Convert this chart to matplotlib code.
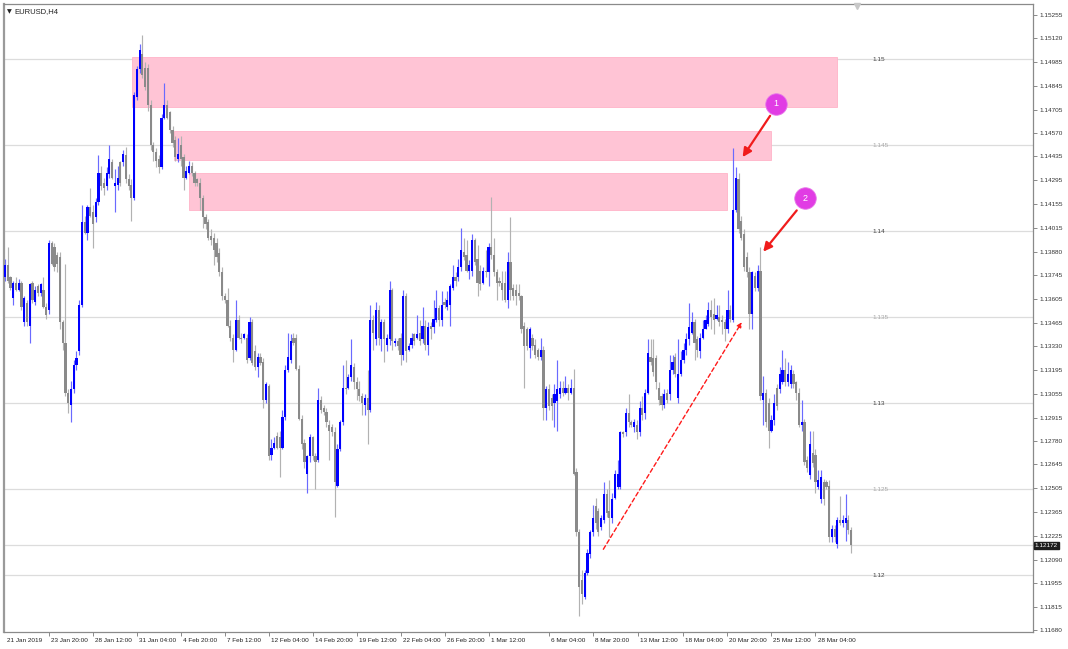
import numpy as np
import matplotlib
matplotlib.use('Agg')
import matplotlib.pyplot as plt
import matplotlib.transforms as mtrans

plt.rcParams['font.family'] = ['Liberation Sans', 'DejaVu Sans']

# ── data: EURUSD H4 candles ──────────────────────────────────────────────────
opens = [
    1.1373, 1.1380, 1.1373, 1.1361, 1.1370, 1.1366, 1.1370, 1.1347, 1.1358,
    1.1345, 1.1370, 1.1359, 1.1368, 1.1364, 1.1366, 1.1356, 1.1354, 1.1393, 1.1391,
    1.1386, 1.1385, 1.1347, 1.1335, 1.1306, 1.1299, 1.1308, 1.1322, 1.1330,
    1.1357, 1.1405, 1.1399, 1.1414, 1.1411, 1.1408, 1.1417, 1.1434, 1.1428, 1.1426,
    1.1433, 1.1440, 1.1426, 1.1427, 1.1440, 1.1440, 1.1444, 1.1430, 1.1427, 1.1419,
    1.1478, 1.1494, 1.1503, 1.1495, 1.1495, 1.1473, 1.1450, 1.1446, 1.1442, 1.1437, 1.1466,
    1.1473, 1.1469, 1.1459, 1.1453, 1.1442, 1.1450, 1.1443, 1.1431, 1.1434, 1.1438, 1.1434,
    1.1430, 1.1428, 1.1419, 1.1408, 1.1405, 1.1397, 1.1396, 1.1393, 1.1387, 1.1376, 1.1362,
    1.1360, 1.1345, 1.1338, 1.1331, 1.1348, 1.1338, 1.1338, 1.1338, 1.1326, 1.1347, 1.1330,
    1.1321, 1.1327, 1.1324, 1.1302, 1.1310, 1.1270, 1.1274, 1.1281, 1.1280, 1.1274,
    1.1292, 1.1319, 1.1325, 1.1338, 1.1338, 1.1320, 1.1291, 1.1277, 1.1259, 1.1269, 1.1280,
    1.1269, 1.1267, 1.1302, 1.1297, 1.1295, 1.1287, 1.1286, 1.1283, 1.1252, 1.1273,
    1.1289, 1.1309, 1.1309, 1.1315, 1.1321, 1.1312, 1.1308, 1.1304, 1.1299, 1.1303,
    1.1296, 1.1348, 1.1337, 1.1354, 1.1337, 1.1347, 1.1334, 1.1337, 1.1366, 1.1335, 1.1336,
    1.1338, 1.1328, 1.1362, 1.1331, 1.1334, 1.1340, 1.1338, 1.1341, 1.1337, 1.1345,
    1.1334, 1.1345, 1.1344, 1.1348, 1.1355, 1.1348, 1.1359, 1.1356, 1.1357, 1.1367, 1.1373,
    1.1373, 1.1379, 1.1388, 1.1386, 1.1377, 1.1377, 1.1395, 1.1384, 1.1377, 1.1370, 1.1377,
    1.1376, 1.1391, 1.1386, 1.1376, 1.1371, 1.1370, 1.1370, 1.1360, 1.1382, 1.1367,
    1.1366, 1.1364, 1.1362, 1.1345, 1.1343, 1.1332, 1.1338, 1.1334, 1.1331, 1.1327,
    1.1331, 1.1297, 1.1308, 1.1303, 1.1300, 1.1301, 1.1305, 1.1309, 1.1306, 1.1309,
    1.1306, 1.1309, 1.1260, 1.1225, 1.1197, 1.1187, 1.1201, 1.1212, 1.1225, 1.1240,
    1.1237, 1.1228, 1.1232, 1.1247, 1.1237, 1.1233, 1.1245, 1.1251, 1.1251, 1.1283,
    1.1283, 1.1294, 1.1289, 1.1286, 1.1287, 1.1283, 1.1297, 1.1294, 1.1306, 1.1327,
    1.1326, 1.1326, 1.1309, 1.1304, 1.1299, 1.1306, 1.1305, 1.1319, 1.1327, 1.1303,
    1.1317, 1.1325, 1.1331, 1.1337, 1.1341, 1.1347, 1.1337, 1.1330, 1.1338, 1.1343,
    1.1346, 1.1354, 1.1352, 1.1349, 1.1350, 1.1348, 1.1347, 1.1343, 1.1354, 1.1348,
    1.1412, 1.1430, 1.1406, 1.1398, 1.1385, 1.1376, 1.1352, 1.1374, 1.1367,
    1.1377, 1.1302, 1.1306, 1.1300, 1.1284, 1.1290, 1.1309, 1.1308, 1.1312,
    1.1319, 1.1312, 1.1311, 1.1317, 1.1312, 1.1306, 1.1287, 1.1289, 1.1267,
    1.1258, 1.1271, 1.1270, 1.1251, 1.1244, 1.1254, 1.1254, 1.1252, 1.1222, 1.1227,
    1.1218, 1.1232, 1.1230, 1.1230, 1.1232, 1.1226,
]
highs = [
    1.1384, 1.1391, 1.1374, 1.1371, 1.1373, 1.1372, 1.1371, 1.1362, 1.1360,
    1.1370, 1.1371, 1.1368, 1.1369, 1.1370, 1.1373, 1.1358, 1.1395, 1.1394, 1.1393,
    1.1388, 1.1388, 1.1348, 1.1381, 1.1308, 1.1313, 1.1325, 1.1330, 1.1360,
    1.1415, 1.1409, 1.1415, 1.1425, 1.1415, 1.1419, 1.1444, 1.1438, 1.1431, 1.1437,
    1.1450, 1.1442, 1.1436, 1.1438, 1.1441, 1.1447, 1.1449, 1.1433, 1.1430, 1.1481,
    1.1496, 1.1509, 1.1514, 1.1498, 1.1497, 1.1476, 1.1452, 1.1448, 1.1444, 1.1468, 1.1486,
    1.1476, 1.1470, 1.1461, 1.1455, 1.1454, 1.1455, 1.1445, 1.1438, 1.1441, 1.1440, 1.1435,
    1.1431, 1.1431, 1.1421, 1.1410, 1.1407, 1.1401, 1.1399, 1.1396, 1.1390, 1.1379, 1.1364,
    1.1367, 1.1348, 1.1340, 1.1360, 1.1351, 1.1341, 1.1341, 1.1340, 1.1350, 1.1349, 1.1334,
    1.1329, 1.1329, 1.1326, 1.1312, 1.1311, 1.1279, 1.1280, 1.1283, 1.1284, 1.1296,
    1.1322, 1.1341, 1.1340, 1.1341, 1.1340, 1.1322, 1.1293, 1.1279, 1.1270, 1.1282, 1.1281,
    1.1271, 1.1309, 1.1304, 1.1299, 1.1297, 1.1290, 1.1288, 1.1286, 1.1276, 1.1290,
    1.1322, 1.1325, 1.1317, 1.1337, 1.1323, 1.1315, 1.1313, 1.1306, 1.1305, 1.1319,
    1.1357, 1.1351, 1.1359, 1.1357, 1.1349, 1.1349, 1.1340, 1.1371, 1.1367, 1.1338, 1.1338,
    1.1341, 1.1366, 1.1364, 1.1335, 1.1341, 1.1341, 1.1351, 1.1348, 1.1356, 1.1348,
    1.1347, 1.1347, 1.1360, 1.1366, 1.1357, 1.1365, 1.1361, 1.1365, 1.1369, 1.1380, 1.1376,
    1.1384, 1.1402, 1.1396, 1.1395, 1.1383, 1.1398, 1.1396, 1.1392, 1.1380, 1.1379, 1.1389,
    1.1393, 1.1420, 1.1396, 1.1378, 1.1373, 1.1377, 1.1377, 1.1388, 1.1408, 1.1369,
    1.1369, 1.1369, 1.1363, 1.1347, 1.1344, 1.1344, 1.1340, 1.1337, 1.1332, 1.1338,
    1.1333, 1.1310, 1.1311, 1.1305, 1.1311, 1.1325, 1.1313, 1.1313, 1.1316, 1.1311,
    1.1314, 1.1320, 1.1262, 1.1227, 1.1203, 1.1203, 1.1215, 1.1226, 1.1241, 1.1245,
    1.1239, 1.1235, 1.1254, 1.1250, 1.1255, 1.1248, 1.1261, 1.1267, 1.1284, 1.1284,
    1.1297, 1.1305, 1.1290, 1.1291, 1.1290, 1.1301, 1.1304, 1.1308, 1.1337, 1.1337,
    1.1337, 1.1328, 1.1312, 1.1306, 1.1308, 1.1308, 1.1328, 1.1328, 1.1329, 1.1337,
    1.1330, 1.1335, 1.1341, 1.1358, 1.1353, 1.1349, 1.1339, 1.1341, 1.1348, 1.1351,
    1.1359, 1.1360, 1.1361, 1.1357, 1.1357, 1.1351, 1.1349, 1.1366, 1.1357, 1.1448,
    1.1437, 1.1434, 1.1409, 1.1401, 1.1388, 1.1379, 1.1377, 1.1376, 1.1380,
    1.1391, 1.1316, 1.1308, 1.1303, 1.1293, 1.1305, 1.1311, 1.1321, 1.1331,
    1.1326, 1.1324, 1.1322, 1.1319, 1.1313, 1.1309, 1.1302, 1.1291, 1.1269,
    1.1284, 1.1284, 1.1273, 1.1261, 1.1261, 1.1256, 1.1255, 1.1255, 1.1229, 1.1229,
    1.1234, 1.1246, 1.1235, 1.1247, 1.1235, 1.1228,
]
lows = [
    1.1371, 1.1370, 1.1366, 1.1357, 1.1365, 1.1365, 1.1354, 1.1345, 1.1345,
    1.1335, 1.1358, 1.1357, 1.1362, 1.1362, 1.1355, 1.1349, 1.1352, 1.1380, 1.1377,
    1.1376, 1.1343, 1.1331, 1.1304, 1.1294, 1.1289, 1.1306, 1.1319, 1.1328,
    1.1356, 1.1398, 1.1395, 1.1408, 1.1390, 1.1405, 1.1415, 1.1424, 1.1421, 1.1424,
    1.1431, 1.1430, 1.1411, 1.1424, 1.1426, 1.1438, 1.1428, 1.1424, 1.1406, 1.1418,
    1.1476, 1.1492, 1.1489, 1.1482, 1.1470, 1.1447, 1.1441, 1.1437, 1.1434, 1.1436, 1.1465,
    1.1465, 1.1457, 1.1449, 1.1441, 1.1440, 1.1438, 1.1424, 1.1430, 1.1433, 1.1432, 1.1426,
    1.1426, 1.1412, 1.1402, 1.1401, 1.1395, 1.1392, 1.1380, 1.1382, 1.1374, 1.1360, 1.1358,
    1.1344, 1.1336, 1.1324, 1.1330, 1.1337, 1.1335, 1.1337, 1.1323, 1.1325, 1.1322, 1.1319,
    1.1315, 1.1322, 1.1297, 1.1300, 1.1267, 1.1267, 1.1273, 1.1273, 1.1257, 1.1273,
    1.1290, 1.1318, 1.1323, 1.1334, 1.1319, 1.1290, 1.1273, 1.1262, 1.1248, 1.1266, 1.1267,
    1.1250, 1.1266, 1.1294, 1.1293, 1.1286, 1.1267, 1.1281, 1.1234, 1.1251, 1.1272,
    1.1287, 1.1305, 1.1308, 1.1313, 1.1308, 1.1302, 1.1301, 1.1293, 1.1293, 1.1276,
    1.1295, 1.1331, 1.1334, 1.1334, 1.1330, 1.1324, 1.1330, 1.1334, 1.1331, 1.1333, 1.1331,
    1.1322, 1.1325, 1.1324, 1.1330, 1.1332, 1.1334, 1.1337, 1.1334, 1.1335, 1.1331,
    1.1328, 1.1337, 1.1341, 1.1347, 1.1345, 1.1345, 1.1355, 1.1354, 1.1345, 1.1366, 1.1368,
    1.1371, 1.1377, 1.1383, 1.1376, 1.1372, 1.1374, 1.1380, 1.1362, 1.1366, 1.1369, 1.1373,
    1.1368, 1.1384, 1.1374, 1.1360, 1.1368, 1.1360, 1.1359, 1.1355, 1.1360, 1.1360,
    1.1357, 1.1360, 1.1341, 1.1309, 1.1331, 1.1326, 1.1331, 1.1326, 1.1325, 1.1325,
    1.1290, 1.1290, 1.1296, 1.1290, 1.1286, 1.1284, 1.1303, 1.1304, 1.1305, 1.1302,
    1.1305, 1.1258, 1.1223, 1.1176, 1.1183, 1.1186, 1.1200, 1.1210, 1.1223, 1.1227,
    1.1223, 1.1226, 1.1230, 1.1234, 1.1222, 1.1230, 1.1244, 1.1250, 1.1250, 1.1280,
    1.1281, 1.1286, 1.1286, 1.1283, 1.1279, 1.1281, 1.1290, 1.1291, 1.1305, 1.1322,
    1.1316, 1.1308, 1.1299, 1.1296, 1.1297, 1.1300, 1.1302, 1.1317, 1.1315, 1.1300,
    1.1316, 1.1323, 1.1328, 1.1334, 1.1340, 1.1325, 1.1327, 1.1326, 1.1337, 1.1343,
    1.1345, 1.1343, 1.1340, 1.1348, 1.1345, 1.1340, 1.1336, 1.1341, 1.1347, 1.1347,
    1.1411, 1.1399, 1.1395, 1.1377, 1.1373, 1.1343, 1.1343, 1.1365, 1.1365,
    1.1302, 1.1287, 1.1286, 1.1274, 1.1283, 1.1287, 1.1296, 1.1306, 1.1311,
    1.1310, 1.1310, 1.1309, 1.1309, 1.1302, 1.1286, 1.1284, 1.1264, 1.1260,
    1.1256, 1.1263, 1.1248, 1.1250, 1.1242, 1.1241, 1.1250, 1.1219, 1.1219, 1.1219,
    1.1216, 1.1229, 1.1228, 1.1220, 1.1224, 1.1213,
]
closes = [
    1.1380, 1.1371, 1.1367, 1.1370, 1.1366, 1.1370, 1.1356, 1.1361, 1.1347,
    1.1369, 1.1360, 1.1366, 1.1364, 1.1369, 1.1356, 1.1351, 1.1393, 1.1381, 1.1379,
    1.1381, 1.1347, 1.1335, 1.1306, 1.1300, 1.1308, 1.1322, 1.1326, 1.1357,
    1.1405, 1.1399, 1.1414, 1.1409, 1.1404, 1.1417, 1.1434, 1.1426, 1.1425, 1.1434,
    1.1442, 1.1431, 1.1428, 1.1431, 1.1428, 1.1445, 1.1430, 1.1426, 1.1419, 1.1479,
    1.1494, 1.1505, 1.1491, 1.1484, 1.1473, 1.1450, 1.1446, 1.1441, 1.1437, 1.1466, 1.1473,
    1.1466, 1.1459, 1.1451, 1.1443, 1.1445, 1.1442, 1.1431, 1.1435, 1.1438, 1.1434, 1.1428,
    1.1428, 1.1419, 1.1408, 1.1404, 1.1396, 1.1395, 1.1389, 1.1385, 1.1376, 1.1362, 1.1360,
    1.1345, 1.1338, 1.1331, 1.1348, 1.1338, 1.1337, 1.1340, 1.1325, 1.1347, 1.1323, 1.1321,
    1.1327, 1.1323, 1.1302, 1.1311, 1.1269, 1.1274, 1.1277, 1.1274, 1.1274, 1.1292,
    1.1319, 1.1327, 1.1336, 1.1335, 1.1320, 1.1291, 1.1276, 1.1266, 1.1269, 1.1280, 1.1269,
    1.1266, 1.1302, 1.1296, 1.1295, 1.1289, 1.1284, 1.1283, 1.1254, 1.1273, 1.1289,
    1.1309, 1.1308, 1.1315, 1.1322, 1.1312, 1.1308, 1.1304, 1.1300, 1.1303, 1.1296,
    1.1348, 1.1341, 1.1354, 1.1338, 1.1347, 1.1337, 1.1338, 1.1366, 1.1336, 1.1336, 1.1333,
    1.1328, 1.1362, 1.1330, 1.1333, 1.1338, 1.1336, 1.1340, 1.1336, 1.1345, 1.1334,
    1.1344, 1.1343, 1.1349, 1.1355, 1.1348, 1.1357, 1.1357, 1.1360, 1.1368, 1.1373, 1.1371,
    1.1379, 1.1389, 1.1385, 1.1377, 1.1380, 1.1395, 1.1382, 1.1370, 1.1369, 1.1377, 1.1376,
    1.1391, 1.1386, 1.1376, 1.1370, 1.1370, 1.1366, 1.1360, 1.1382, 1.1366, 1.1362,
    1.1362, 1.1362, 1.1343, 1.1333, 1.1333, 1.1343, 1.1333, 1.1328, 1.1327, 1.1331,
    1.1297, 1.1308, 1.1298, 1.1298, 1.1305, 1.1308, 1.1309, 1.1306, 1.1309, 1.1306,
    1.1309, 1.1259, 1.1225, 1.1193, 1.1189, 1.1201, 1.1213, 1.1225, 1.1233, 1.1230,
    1.1225, 1.1233, 1.1247, 1.1236, 1.1233, 1.1244, 1.1259, 1.1259, 1.1283, 1.1282,
    1.1294, 1.1289, 1.1287, 1.1289, 1.1283, 1.1297, 1.1293, 1.1306, 1.1329, 1.1324,
    1.1318, 1.1312, 1.1302, 1.1299, 1.1305, 1.1302, 1.1319, 1.1324, 1.1317, 1.1317,
    1.1325, 1.1331, 1.1337, 1.1344, 1.1347, 1.1335, 1.1331, 1.1338, 1.1343, 1.1348,
    1.1354, 1.1350, 1.1348, 1.1351, 1.1347, 1.1347, 1.1343, 1.1354, 1.1349, 1.1412,
    1.1431, 1.1401, 1.1396, 1.1379, 1.1376, 1.1352, 1.1376, 1.1367, 1.1377,
    1.1304, 1.1306, 1.1289, 1.1284, 1.1290, 1.1300, 1.1298, 1.1317, 1.1319,
    1.1312, 1.1317, 1.1319, 1.1311, 1.1306, 1.1287, 1.1289, 1.1266, 1.1262,
    1.1276, 1.1265, 1.1254, 1.1255, 1.1257, 1.1244, 1.1251, 1.1222, 1.1227, 1.1222,
    1.1232, 1.1230, 1.1232, 1.1233, 1.1226, 1.12172,
]

bid = 1.12172
level_lines = [1.15, 1.145, 1.14, 1.135, 1.13, 1.125, 1.12]
level_labels = ["1.15", "1.145", "1.14", "1.135", "1.13", "1.125", "1.12"]

price_ticks = [1.15255, 1.15120, 1.14985, 1.14845, 1.14705, 1.14570, 1.14435,
               1.14295, 1.14155, 1.14015, 1.13880, 1.13745, 1.13605, 1.13465,
               1.13330, 1.13195, 1.13055, 1.12915, 1.12780, 1.12645, 1.12505,
               1.12365, 1.12225, 1.12090, 1.11955, 1.11815, 1.11680]

time_bars = [0, 16, 32, 48, 64, 80, 96, 112, 128, 144, 160, 176,
             198, 214, 230.5, 246.7, 262.7, 278.9, 295]
time_labels = ["21 Jan 2019", "23 Jan 20:00", "28 Jan 12:00", "31 Jan 04:00",
               "4 Feb 20:00", "7 Feb 12:00", "12 Feb 04:00", "14 Feb 20:00",
               "19 Feb 12:00", "22 Feb 04:00", "26 Feb 20:00", "1 Mar 12:00",
               "6 Mar 04:00", "8 Mar 20:00", "13 Mar 12:00", "18 Mar 04:00",
               "20 Mar 20:00", "25 Mar 12:00", "28 Mar 04:00"]

# supply zones: (first bar, last bar, low, high)
zones = [(46.2, 302.9, 1.1472, 1.1501),
         (61.5, 278.9, 1.14413, 1.14581),
         (67.0, 262.8, 1.14122, 1.14337)]

# ── figure ───────────────────────────────────────────────────────────────────
W, H = 1068, 649
fig = plt.figure(figsize=(W / 100, H / 100), dpi=100)
fig.patch.set_facecolor('white')
ax = fig.add_axes([4 / W, 17 / H, 1029 / W, 628 / H])

n = min(len(opens), len(highs), len(lows), len(closes))
o = np.array(opens[:n])
h = np.array(highs[:n])
l = np.array(lows[:n])
c = np.array(closes[:n])
x = np.arange(n)
up = c >= o

BLUE, BLUE_W = '#0000ff', '#6a6aff'
GRAY, GRAY_W = '#8a8a8a', '#b2b2b2'

for z0, z1, lo, hi in zones:
    ax.add_patch(plt.Rectangle((z0, lo), z1 - z0, hi - lo, facecolor='#ffc4d5',
                               edgecolor='#ffb3c8', lw=0.6, zorder=1))

for lv in level_lines:
    ax.axhline(lv, color='#dcdcdc', lw=0.9, zorder=0.5)
ax.axhline(bid, color='#dcdcdc', lw=0.9, zorder=0.5)

ax.vlines(x[up], l[up], h[up], color=BLUE_W, lw=0.85, zorder=2)
ax.vlines(x[~up], l[~up], h[~up], color=GRAY_W, lw=0.85, zorder=2)
body_lo = np.minimum(o, c)
body_h = np.maximum(np.abs(c - o), 0.00005)
ax.bar(x[up], body_h[up], bottom=body_lo[up], width=0.8, color=BLUE, lw=0, zorder=3)
ax.bar(x[~up], body_h[~up], bottom=body_lo[~up], width=0.8, color=GRAY, lw=0, zorder=3)

for lv, txt, col in zip(level_lines, level_labels,
                        ['#444', '#aaa', '#444', '#aaa', '#444', '#aaa', '#444']):
    ax.text(315.6, lv, txt, fontsize=4.6, color=col, va='center', ha='left', zorder=4)

# annotations
ax.annotate('', xy=(268.2, 1.1347), xytext=(217.8, 1.1215),
            arrowprops=dict(arrowstyle='-|>', color='#ff1a1a', lw=1.0,
                            linestyle=(0, (3, 2)), mutation_scale=7,
                            shrinkA=0, shrinkB=0), zorder=5)
ax.annotate('', xy=(268.5, 1.1443), xytext=(278.5, 1.1467),
            arrowprops=dict(arrowstyle='-|>', color='#f01c1c', lw=1.6,
                            mutation_scale=13, shrinkA=0, shrinkB=0), zorder=5)
ax.annotate('', xy=(276.0, 1.1388), xytext=(288.2, 1.1412),
            arrowprops=dict(arrowstyle='-|>', color='#f01c1c', lw=1.6,
                            mutation_scale=13, shrinkA=0, shrinkB=0), zorder=5)
for cx, cy, num in [(280.7, 1.1474, '1'), (291.2, 1.1419, '2')]:
    ax.plot(cx, cy, 'o', ms=15.5, color='#e13ce4', mec='#e77ae9', mew=0.6, zorder=6)
    ax.text(cx, cy, num, color='white', fontsize=6.5, ha='center', va='center', zorder=7)

# axes limits / frame
ax.set_xlim(-0.364, 374.2)
ax.set_ylim(1.11669, 1.15320)
for s in ['top', 'bottom', 'right']:
    ax.spines[s].set_color('#8a8a8a')
    ax.spines[s].set_linewidth(0.9)
ax.spines['left'].set_color('#9a9a9a')
ax.spines['left'].set_linewidth(1.6)

ax.yaxis.tick_right()
ax.set_yticks(price_ticks)
ax.set_yticklabels([f"{p:.5f}" for p in price_ticks])
ax.tick_params(axis='y', direction='out', length=3, width=0.6, color='#777',
               labelsize=4.6, labelcolor='#333', pad=2)

ax.set_xticks(time_bars)
ax.set_xticklabels(time_labels)
ax.tick_params(axis='x', direction='out', length=3, width=0.6, color='#777',
               labelsize=4.6, labelcolor='#222', pad=1.5)
shift = mtrans.ScaledTranslation(1.5 / 72, 0, fig.dpi_scale_trans)
for lbl in ax.get_xticklabels():
    lbl.set_ha('left')
    lbl.set_transform(lbl.get_transform() + shift)
ax.xaxis.get_major_ticks()[0].tick1line.set_visible(False)

# current price box
ax.text(1.0015, bid, "1.12172", transform=ax.get_yaxis_transform(), fontsize=4.6,
        color='white', va='center', ha='left',
        bbox=dict(boxstyle='square,pad=0.15', fc='#1e1e1e', ec='#1e1e1e'), zorder=8,
        clip_on=False)

ax.text(0.003, 0.991, "\u25bc", transform=ax.transAxes, fontsize=4.5, va='top',
        ha='left', color='#222', family=['DejaVu Sans'])
ax.text(0.0105, 0.993, "EURUSD,H4", transform=ax.transAxes, fontsize=5.5, va='top',
        ha='left', color='#222')
ax.plot(310.2, 1.1531, marker='v', ms=4, color='#c8c8c8', clip_on=False, zorder=6)

fig.savefig('out.png', dpi=100)
